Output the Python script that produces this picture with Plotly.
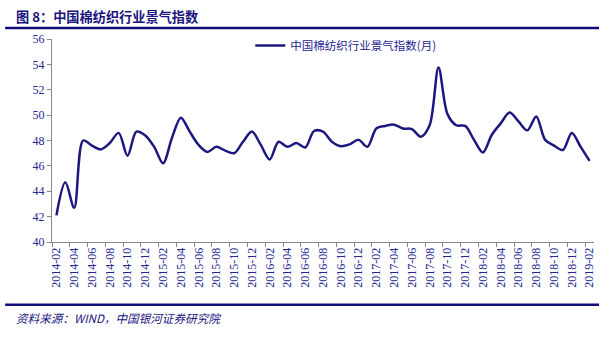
import pandas as pd
import plotly.graph_objects as go

months = [p.strftime("%Y-%m") for p in pd.period_range("2014-02", "2019-02", freq="M")]
index_values = [
    42.1, 44.7, 42.7, 48.0, 47.6, 47.3, 47.8, 48.6, 46.8, 48.7,
    48.4, 47.5, 46.2, 48.2, 49.8, 48.7, 47.65, 47.1, 47.5, 47.2,
    47.0, 47.9, 48.7, 47.65, 46.5, 47.9, 47.5, 47.8, 47.45, 48.75,
    48.7, 47.9, 47.55, 47.7, 48.05, 47.5, 48.95, 49.15, 49.25, 48.95,
    48.9, 48.3, 49.2, 53.75, 50.1, 49.2, 49.15, 48.05, 47.05, 48.45,
    49.35, 50.2, 49.5, 48.8, 49.9, 48.05, 47.6, 47.25, 48.6, 47.5,
    46.4,
]
series_name = "中国棉纺织行业景气指数(月)"
title_text = "图 8：中国棉纺织行业景气指数"
source_text = "资料来源：WIND，中国银河证券研究院"
y_ticks = [40, 42, 44, 46, 48, 50, 52, 54, 56]

NAVY = "#1c1880"
TXT = "#262690"

# plot area in pixels
L, R, T, B = 52, 596, 38.5, 242.5
W, H = 607, 337

def px(x):
    return (x - L) / (R - L)

def py(y):
    return (B - y) / (B - T)

fig = go.Figure()
fig.add_trace(go.Scatter(
    x=months, y=index_values, mode="lines", name=series_name,
    line=dict(color=NAVY, width=2.5, shape="spline", smoothing=0.9),
))

fig.update_layout(
    width=W, height=H,
    margin=dict(l=L, r=W - R, t=T, b=H - B, pad=0),
    paper_bgcolor="white", plot_bgcolor="white",
    showlegend=True,
    legend=dict(
        x=px(251), y=py(45), xanchor="left", yanchor="middle",
        font=dict(family="Noto Sans CJK SC", size=11.5, color=TXT),
        bgcolor="rgba(0,0,0,0)", itemwidth=30,
    ),
    xaxis=dict(
        type="category", range=[-0.5, len(months) - 0.5],
        tickson="boundaries", dtick=2, ticks="outside", ticklen=4,
        tickcolor="#888888", showline=True, linecolor="#888888", linewidth=1,
        showgrid=False, tickangle=-90,
        tickfont=dict(family="Liberation Serif", size=12, color=TXT),
    ),
    yaxis=dict(
        range=[40, 56], tickvals=y_ticks, ticks="outside", ticklen=4,
        tickcolor="#888888", showline=True, linecolor="#888888", linewidth=1,
        showgrid=False, zeroline=False,
        tickfont=dict(family="Liberation Serif", size=12, color=TXT),
    ),
    shapes=[
        dict(type="line", xref="paper", yref="paper", x0=px(5), x1=px(601),
             y0=py(27.5), y1=py(27.5), line=dict(color="#0e0a78", width=2.5)),
        dict(type="line", xref="paper", yref="paper", x0=px(5), x1=px(601),
             y0=py(305.5), y1=py(305.5), line=dict(color="#0e0a78", width=2.5)),
    ],
    annotations=[
        dict(text="<b>" + title_text + "</b>", xref="paper", yref="paper",
             x=px(14), y=py(16), xanchor="left", yanchor="middle", showarrow=False,
             font=dict(family="Noto Sans CJK SC", size=13.2, color="#1a1580")),
        dict(text="<i>" + source_text + "</i>", xref="paper", yref="paper",
             x=px(14), y=py(319), xanchor="left", yanchor="middle", showarrow=False,
             font=dict(family="Noto Sans CJK SC", size=11.6, color="#1a1580")),
    ],
)

fig.write_html("out.html")
